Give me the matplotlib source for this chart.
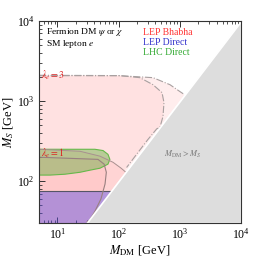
import numpy as np
import matplotlib
matplotlib.use('Agg')
import matplotlib.pyplot as plt

plt.rcParams['font.family'] = 'serif'
plt.rcParams['font.serif'] = ['Liberation Serif', 'DejaVu Serif']
plt.rcParams['mathtext.fontset'] = 'stix'

# axis ranges (GeV)
mdm_lim = [5, 1e4]
ms_lim = [30, 1e4]

# LEP Bhabha, lambda_e = 3 (outer and inner contour)
lam3_out_mdm = [5, 100, 365, 692, 1007, 1200]
lam3_out_ms = [2100, 2080, 1960, 1600, 1312, 1200]
lam3_in_mdm = [5, 105, 223, 365, 512, 551, 531, 474, 420, 300, 200, 135]
lam3_in_ms = [2075, 2075, 1960, 1600, 1275, 958, 642, 470, 450, 330, 220, 148]

# LEP Bhabha, lambda_e = 1 (outer and inner contour)
lam1_out_mdm = [5, 23.4, 49.6, 81, 110, 130]
lam1_out_ms = [250, 236, 205, 172, 145, 130]
lam1_in_mdm = [5, 46, 58, 63, 60, 51.5, 41, 34, 30.5]
lam1_in_ms = [199, 187, 163, 129, 92, 60, 42, 33, 31]

# LHC direct search region
lhc_mdm = [5, 41, 55.6, 67, 72, 67, 49.6, 34, 23.4, 13.3, 7.6, 5]
lhc_ms = [250, 250, 241, 216, 187, 163, 145, 137, 129, 122, 119, 119]

# LEP direct limit on M_S
lep_direct_ms = 75


def closed(xs, ys):
    # close contour down the left edge to the bottom-left corner, then along the diagonal
    x = [mdm_lim[0]] + list(xs) + [ms_lim[0]]
    y = [ms_lim[0]] + list(ys) + [ms_lim[0]]
    return x, y


fig = plt.figure(figsize=(2.62, 2.59), dpi=100)
ax = fig.add_axes([39/262, 36/259, 202/262, 202/259])
ax.set_xscale('log')
ax.set_yscale('log')
ax.set_xlim(mdm_lim)
ax.set_ylim(ms_lim)

# pink Bhabha regions
x, y = closed(lam3_out_mdm, lam3_out_ms)
ax.fill(x, y, color='#ffeded', lw=0, zorder=1)
x, y = closed(lam3_in_mdm, lam3_in_ms)
ax.fill(x, y, color='#ffe1e1', lw=0, zorder=1.1)
x, y = closed(lam1_out_mdm, lam1_out_ms)
ax.fill(x, y, color='#ffd4d4', lw=0, zorder=1.2)
x, y = closed(lam1_in_mdm, lam1_in_ms)
ax.fill(x, y, color='#ffcaca', lw=0, zorder=1.3)

ax.plot(lam3_out_mdm, lam3_out_ms, color='#a8a0a0', lw=0.8, ls='-.', zorder=3)
ax.plot(lam3_in_mdm, lam3_in_ms, color='#a8a0a0', lw=0.8, ls='-.', zorder=3)
ax.plot(lam1_out_mdm, lam1_out_ms, color='#a89090', lw=0.7, zorder=3)
ax.plot(lam1_in_mdm, lam1_in_ms, color='#998080', lw=0.8, zorder=3)

# LHC direct
ax.fill(lhc_mdm, lhc_ms, facecolor=(0.35, 0.68, 0.2, 0.42), edgecolor='#66b84a', lw=0.8, zorder=2)

# LEP direct
ax.fill_between([mdm_lim[0], lep_direct_ms], [lep_direct_ms, lep_direct_ms],
                [ms_lim[0], ms_lim[0]], facecolor=(0.35, 0.3, 0.9, 0.45), lw=0, zorder=2)
ax.plot([mdm_lim[0], lep_direct_ms], [lep_direct_ms, lep_direct_ms], color='#555566', lw=0.8, zorder=2.5)

# kinematically excluded region
diag = [ms_lim[0], mdm_lim[1]]
ax.fill_between(diag, diag, ms_lim[0], facecolor='#dddddd', edgecolor='white', lw=1.2, zorder=4)

ax.text(5.4, 2075, r'$\lambda_e = 3$', color='#dd2222', fontsize=7, va='center', ha='left', zorder=5)
ax.text(5.4, 225, r'$\lambda_e = 1$', color='#dd2222', fontsize=7, va='center', ha='left', zorder=5)
ax.text(1100, 216, r'$M_{\rm DM} > M_S$', color='#777777', fontsize=6, va='center', ha='center', zorder=5)

ax.text(0.035, 0.947, r'Fermion DM $\psi$ or $\chi$', transform=ax.transAxes, fontsize=6.8, va='center')
ax.text(0.035, 0.885, r'SM lepton $e$', transform=ax.transAxes, fontsize=6.8, va='center')
ax.text(0.515, 0.945, 'LEP Bhabha', color='#ff3333', transform=ax.transAxes, fontsize=7, va='center')
ax.text(0.515, 0.895, 'LEP Direct', color='#3333cc', transform=ax.transAxes, fontsize=7, va='center')
ax.text(0.515, 0.845, 'LHC Direct', color='#33aa33', transform=ax.transAxes, fontsize=7, va='center')

ax.set_xlabel(r'$M_{\rm DM}$ [GeV]', fontsize=9, labelpad=1)
ax.set_ylabel(r'$M_S$ [GeV]', fontsize=9, labelpad=1)
ax.tick_params(which='both', direction='in', top=True, right=True, labelsize=8.5, color='#333333')
ax.tick_params(which='major', length=4, width=0.7, pad=3)
ax.tick_params(which='minor', length=2, width=0.6)
for s in ax.spines.values():
    s.set_linewidth(0.8)
    s.set_color('#333333')
    s.set_zorder(6)

fig.savefig('out.png', dpi=100)
